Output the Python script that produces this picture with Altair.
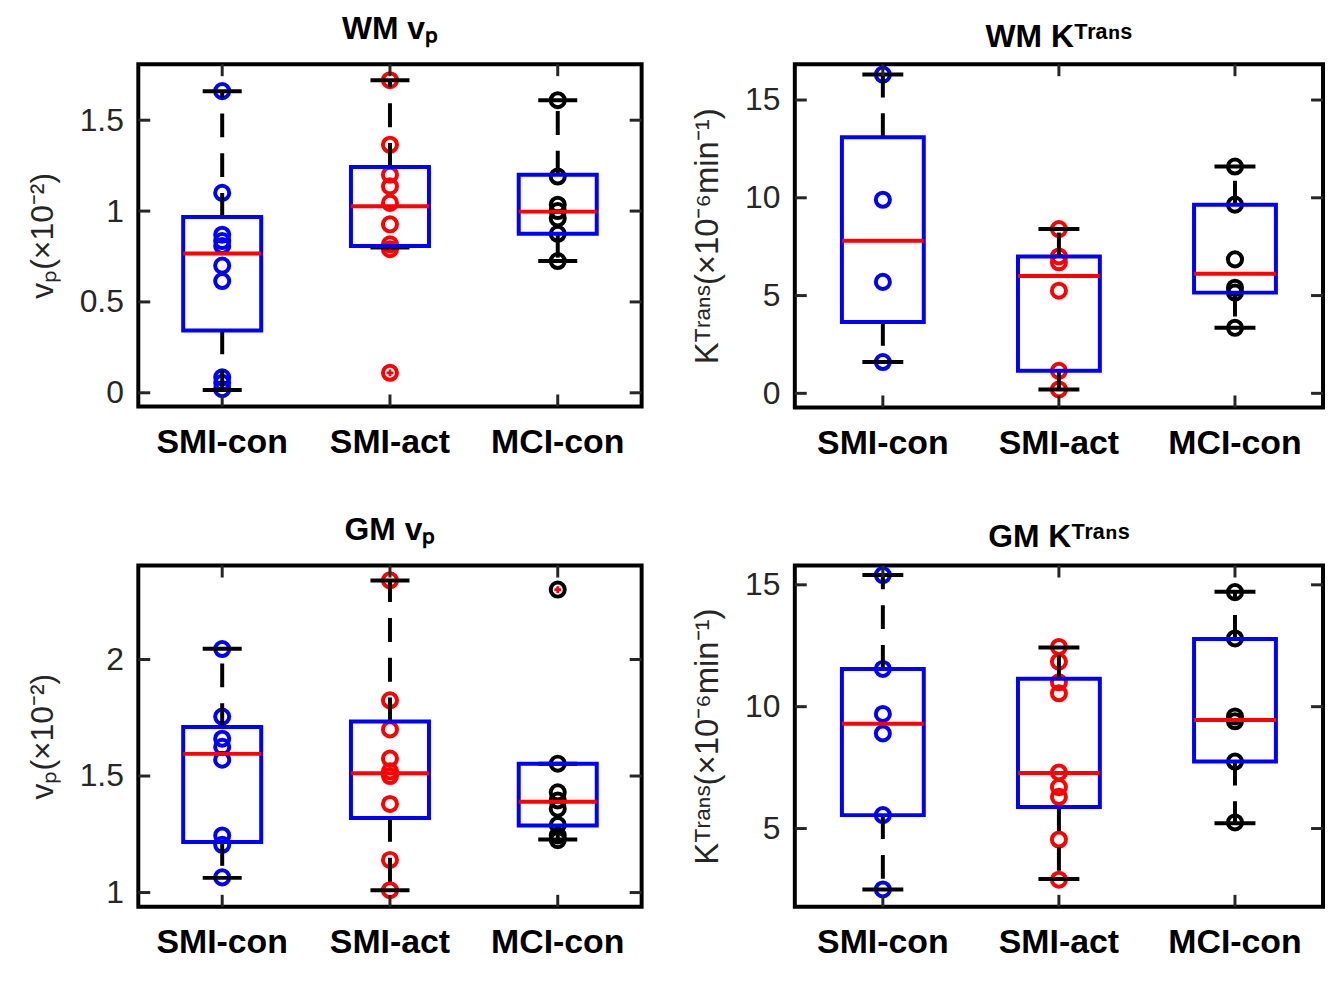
import altair as alt
import pandas as pd

CATS = ["SMI-con", "SMI-act", "MCI-con"]
GROUP_COLORS = ["#0000ff", "#ff0000", "#000000"]
FONT = "Liberation Sans"

# ---------- WM v_p (x10^-2) ----------
wm_vp_points = [
    [1.66, 1.10, 0.87, 0.835, 0.808, 0.70, 0.615, 0.085, 0.055, 0.02],
    [1.72, 1.365, 1.20, 1.136, 1.045, 0.927, 0.817, 0.79, 0.11],
    [1.61, 1.19, 1.035, 1.0, 0.96, 0.875, 0.725],
]
wm_vp_q1 = [0.343, 0.808, 0.875]
wm_vp_med = [0.766, 1.027, 0.997]
wm_vp_q3 = [0.968, 1.243, 1.20]
wm_vp_wlo = [0.015, 0.80, 0.725]
wm_vp_whi = [1.66, 1.72, 1.61]
wm_vp_out_g = ["SMI-act"]
wm_vp_out_v = [0.11]
wm_vp_ticks = [0, 0.5, 1, 1.5]
wm_vp_domain = [-0.075, 1.808]

# ---------- WM K^Trans (x10^-6 min^-1) ----------
wm_kt_points = [
    [16.3, 9.9, 5.7, 1.6],
    [8.4, 7.0, 6.7, 5.25, 1.15, 0.2],
    [11.6, 9.65, 6.85, 5.4, 5.15, 3.35],
]
wm_kt_q1 = [3.65, 1.15, 5.15]
wm_kt_med = [7.8, 6.0, 6.12]
wm_kt_q3 = [13.1, 7.0, 9.65]
wm_kt_wlo = [1.6, 0.2, 3.35]
wm_kt_whi = [16.3, 8.4, 11.6]
wm_kt_out_g = []
wm_kt_out_v = []
wm_kt_ticks = [0, 5, 10, 15]
wm_kt_domain = [-0.72, 16.83]

# ---------- GM v_p (x10^-2) ----------
gm_vp_points = [
    [2.045, 1.755, 1.66, 1.625, 1.57, 1.245, 1.205, 1.065],
    [2.34, 1.825, 1.70, 1.575, 1.52, 1.50, 1.38, 1.14, 1.01],
    [2.30, 1.553, 1.43, 1.395, 1.36, 1.29, 1.245, 1.225],
]
gm_vp_q1 = [1.217, 1.32, 1.288]
gm_vp_med = [1.595, 1.512, 1.39]
gm_vp_q3 = [1.71, 1.734, 1.553]
gm_vp_wlo = [1.063, 1.01, 1.228]
gm_vp_whi = [2.046, 2.339, 1.553]
gm_vp_out_g = ["MCI-con"]
gm_vp_out_v = [2.30]
gm_vp_ticks = [1, 1.5, 2]
gm_vp_domain = [0.939, 2.403]

# ---------- GM K^Trans (x10^-6 min^-1) ----------
gm_kt_points = [
    [15.4, 11.55, 9.7, 8.9, 5.55, 2.5],
    [12.45, 11.85, 11.0, 10.55, 7.3, 6.7, 6.3, 4.55, 2.9],
    [14.7, 12.8, 9.6, 9.4, 7.75, 5.25],
]
gm_kt_q1 = [5.55, 5.88, 7.75]
gm_kt_med = [9.3, 7.28, 9.45]
gm_kt_q3 = [11.55, 11.15, 12.78]
gm_kt_wlo = [2.5, 2.93, 5.22]
gm_kt_whi = [15.4, 12.43, 14.72]
gm_kt_out_g = []
gm_kt_out_v = []
gm_kt_ticks = [5, 10, 15]
gm_kt_domain = [1.79, 15.79]

VP_TITLE = "vₚ(×10⁻²)"
KT_TITLE = "Kᵀʳᵃⁿˢ(×10⁻⁶min⁻¹)"


def panel(title, title_offset, ytitle, ytitle_size, domain, ticks, points,
          q1, med, q3, wlo, whi, out_g, out_v, w, h):
    pts = pd.DataFrame([{"g": CATS[i], "v": v}
                        for i in range(3) for v in points[i]])
    st = pd.DataFrame({"g": CATS, "q1": q1, "med": med, "q3": q3,
                       "wlo": wlo, "whi": whi})
    out = pd.DataFrame({"g": out_g, "v": out_v}) if out_g else pd.DataFrame({"g": [], "v": []})
    step = w / 3.0
    box_px = 0.465 * step
    xs = alt.Scale(type="band", domain=CATS, paddingInner=0, paddingOuter=0)
    xaxis = alt.Axis(labelAngle=0, labelFont=FONT, labelFontSize=34,
                     labelFontWeight="bold", labelColor="black",
                     tickSize=0, domain=False, labelPadding=19, grid=False,
                     title=None)
    ys = alt.Scale(domain=domain, nice=False, zero=False)
    yaxis = alt.Axis(values=ticks, format="~g", labelFont=FONT,
                     labelFontSize=32, labelColor="#262626",
                     labelFlush=False, labelOverlap=False,
                     title=ytitle, titleFont=FONT, titleFontSize=ytitle_size,
                     titleFontWeight="normal", titleColor="#262626",
                     tickSize=0, domain=False, grid=False,
                     labelPadding=15, titlePadding=20)

    def X():
        return alt.X("g:N", sort=CATS, scale=xs, axis=xaxis, title=None)

    def Y(f):
        return alt.Y(f"{f}:Q", scale=ys, axis=yaxis, title=ytitle)

    color = alt.Color("g:N", scale=alt.Scale(domain=CATS, range=GROUP_COLORS),
                      legend=None)

    dots = alt.Chart(pts).mark_point(shape="circle", filled=False, size=200,
                                     strokeWidth=4, opacity=1).encode(
        x=X(), y=Y("v"), color=color)
    wh_up = alt.Chart(st).mark_rule(color="black", strokeWidth=4,
                                    strokeDash=[24, 16], opacity=1).encode(
        x=X(), y=Y("q3"), y2="whi:Q")
    wh_lo = alt.Chart(st).mark_rule(color="black", strokeWidth=4,
                                    strokeDash=[24, 16], opacity=1).encode(
        x=X(), y=Y("q1"), y2="wlo:Q")
    cap_hi = alt.Chart(st).mark_tick(orient="horizontal", color="black",
                                     thickness=4, size=box_px / 2,
                                     opacity=1).encode(x=X(), y=Y("whi"))
    cap_lo = alt.Chart(st).mark_tick(orient="horizontal", color="black",
                                     thickness=4, size=box_px / 2,
                                     opacity=1).encode(x=X(), y=Y("wlo"))
    box = alt.Chart(st).mark_bar(width=alt.RelativeBandSize(0.465),
                                 fillOpacity=0, stroke="#0000ff",
                                 strokeWidth=4, strokeOpacity=1).encode(
        x=X(), y=Y("q1"), y2="q3:Q")
    medl = alt.Chart(st).mark_tick(orient="horizontal", color="#ff0000",
                                   thickness=4, size=box_px,
                                   opacity=1).encode(x=X(), y=Y("med"))
    outs = alt.Chart(out).mark_point(shape="cross", filled=True, size=45,
                                     color="#ff0000", opacity=1).encode(
        x=X(), y=Y("v"))

    tdf = pd.DataFrame({"t": ticks})
    ytl = alt.Chart(tdf).mark_tick(orient="horizontal", color="#262626",
                                   thickness=3, size=12, opacity=1).encode(
        y=Y("t"), x=alt.value(6))
    ytr = alt.Chart(tdf).mark_tick(orient="horizontal", color="#262626",
                                   thickness=3, size=12, opacity=1).encode(
        y=Y("t"), x=alt.value(w - 6))
    cdf = pd.DataFrame({"g": CATS})
    xtt = alt.Chart(cdf).mark_tick(orient="vertical", color="#262626",
                                   thickness=3, size=12, opacity=1).encode(
        x=X(), y=alt.value(6))
    xtb = alt.Chart(cdf).mark_tick(orient="vertical", color="#262626",
                                   thickness=3, size=12, opacity=1).encode(
        x=X(), y=alt.value(h - 6))

    return alt.layer(dots, wh_up, wh_lo, cap_hi, cap_lo, box, medl, outs,
                     ytl, ytr, xtt, xtb).properties(
        width=w, height=h,
        title=alt.TitleParams(text=title, font=FONT, fontSize=32,
                              fontWeight="bold", color="black",
                              offset=title_offset, anchor="middle"))


p1 = panel("WM vₚ", 18, VP_TITLE, 32, wm_vp_domain, wm_vp_ticks, wm_vp_points,
           wm_vp_q1, wm_vp_med, wm_vp_q3, wm_vp_wlo, wm_vp_whi,
           wm_vp_out_g, wm_vp_out_v, 506, 344)
p2 = panel("WM Kᵀʳᵃⁿˢ", 6, KT_TITLE, 33, wm_kt_domain, wm_kt_ticks, wm_kt_points,
           wm_kt_q1, wm_kt_med, wm_kt_q3, wm_kt_wlo, wm_kt_whi,
           wm_kt_out_g, wm_kt_out_v, 531, 345)
p3 = panel("GM vₚ", 18, VP_TITLE, 32, gm_vp_domain, gm_vp_ticks, gm_vp_points,
           gm_vp_q1, gm_vp_med, gm_vp_q3, gm_vp_wlo, gm_vp_whi,
           gm_vp_out_g, gm_vp_out_v, 506, 343)
p4 = panel("GM Kᵀʳᵃⁿˢ", 6, KT_TITLE, 33, gm_kt_domain, gm_kt_ticks, gm_kt_points,
           gm_kt_q1, gm_kt_med, gm_kt_q3, gm_kt_wlo, gm_kt_whi,
           gm_kt_out_g, gm_kt_out_v, 531, 343)

chart = alt.vconcat(
    alt.hconcat(p1, p2, spacing=46),
    alt.hconcat(p3, p4, spacing=46),
    spacing=50,
).properties(
    padding={"left": 16, "top": 1, "right": 0, "bottom": 0},
    background="white",
).configure_view(
    stroke="#000000", strokeWidth=4
)

chart.save("out.html", embed_options={"renderer": "svg", "actions": False})
